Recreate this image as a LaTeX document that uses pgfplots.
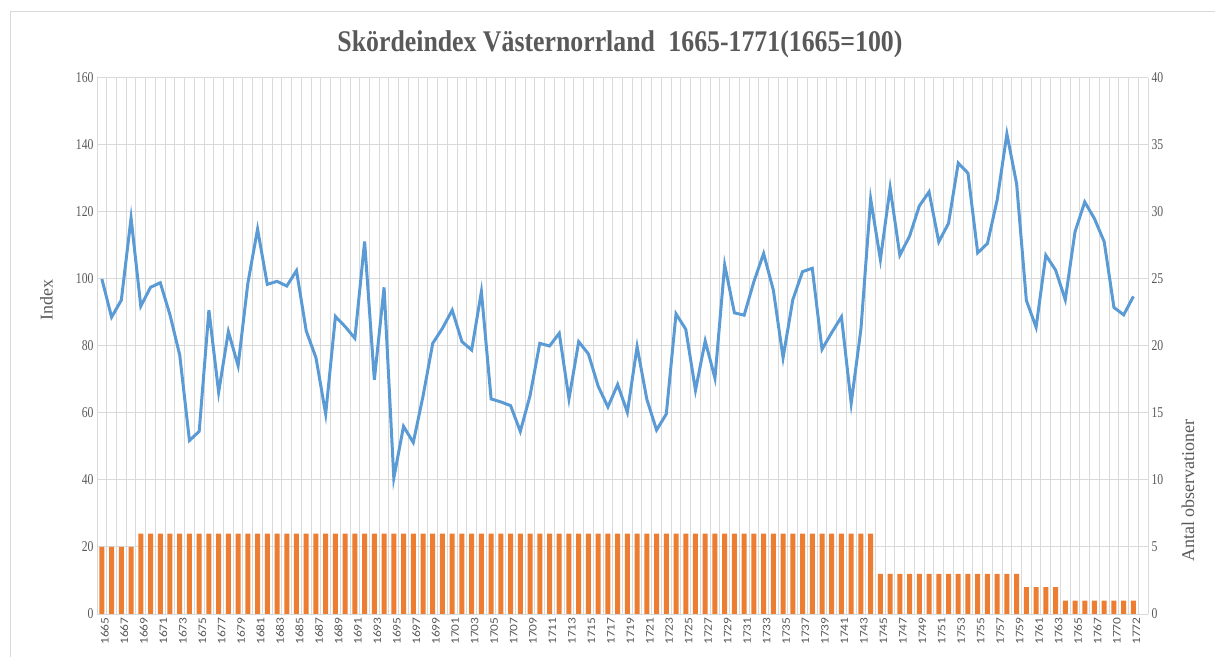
\documentclass[border=0pt]{standalone}
\usepackage{fontspec}
\setmainfont{Liberation Serif}
\newfontfamily\titlefont[FakeStretch=0.86]{Liberation Serif}
\newfontfamily\tickfont[FakeStretch=0.78]{Liberation Serif}
\newfontfamily\xfont[FakeStretch=1.17]{Carlito}
\usepackage{pgfplots}
\pgfplotsset{compat=1.18}
\usepackage{pgfplotstable}

\definecolor{lineblue}{HTML}{5B9BD5}
\definecolor{barorange}{HTML}{ED7D31}
\definecolor{gridgray}{HTML}{D9D9D9}
\definecolor{labelgray}{HTML}{595959}

\pgfplotstableread{
idx val n
0 100 5
1 88.6 5
2 93.7 5
3 118.2 5
4 91.9 6
5 97.5 6
6 98.9 6
7 89.3 6
8 77.3 6
9 51.8 6
10 54.5 6
11 90.7 6
12 66.2 6
13 84.3 6
14 74.1 6
15 98.7 6
16 114.9 6
17 98.4 6
18 99.3 6
19 97.9 6
20 102.5 6
21 84.5 6
22 76.5 6
23 59.7 6
24 88.8 6
25 85.8 6
26 82.3 6
27 111.2 6
28 69.9 6
29 97.5 6
30 40.6 6
31 56.0 6
32 51.2 6
33 65.0 6
34 80.8 6
35 85.3 6
36 90.7 6
37 81.3 6
38 78.8 6
39 96.2 6
40 64.2 6
41 63.3 6
42 62.2 6
43 54.5 6
44 65.2 6
45 80.8 6
46 80.0 6
47 83.8 6
48 64.2 6
49 81.3 6
50 77.6 6
51 68.0 6
52 61.8 6
53 68.5 6
54 60.2 6
55 79.8 6
56 64.1 6
57 54.9 6
58 59.7 6
59 89.6 6
60 85.0 6
61 66.8 6
62 81.5 6
63 70.4 6
64 104.2 6
65 89.9 6
66 89.2 6
67 99.2 6
68 107.6 6
69 96.7 6
70 76.5 6
71 93.8 6
72 102.2 6
73 103.2 6
74 79.0 6
75 84.0 6
76 88.7 6
77 62.9 6
78 85.0 6
79 123.9 6
80 105.8 3
81 127.2 3
82 107.1 3
83 112.8 3
84 121.8 3
85 126.0 3
86 111.1 3
87 116.6 3
88 134.6 3
89 131.6 3
90 107.8 3
91 110.6 3
92 123.6 3
93 143.3 3
94 128.4 3
95 93.6 2
96 85.6 2
97 107.1 2
98 102.7 2
99 93.8 1
100 114.1 1
101 123.0 1
102 118.0 1
103 111.1 1
104 91.5 1
105 89.3 1
106 94.8 1
}\data

\begin{document}
\begin{tikzpicture}
\useasboundingbox (0bp,0bp) rectangle (1215bp,657bp);
\draw[gridgray, line width=1bp] (10bp,0bp) -- (10bp,645bp) -- (1215bp,645bp);
\begin{axis}[
  at={(97bp,43bp)}, anchor=south west, scale only axis,
  width=1051bp, height=536bp,
  xmin=-0.5, xmax=107.5, ymin=0, ymax=40,
  axis x line*=bottom, axis y line*=right,
  x axis line style={draw=gridgray, line width=1bp, -},
  y axis line style={draw=none},
  xtick={0,2,...,106},
  xticklabels={1665,1667,1669,1671,1673,1675,1677,1679,1681,1683,1685,1687,1689,1691,1693,1695,1697,1699,1701,1703,1705,1707,1709,1711,1713,1715,1717,1719,1721,1723,1725,1727,1729,1731,1733,1735,1737,1739,1741,1743,1745,1747,1749,1751,1753,1755,1757,1759,1761,1763,1765,1767,1770,1772},
  minor xtick={-0.5,0.5,...,107.5},
  xminorgrids=true, ymajorgrids=true, xmajorgrids=false,
  ytick={0,5,...,40},
  major tick length=0, minor tick length=0,
  grid style={draw=gridgray, line width=1bp},
  minor grid style={draw=gridgray, line width=1bp},
  major grid style={draw=gridgray, line width=1bp},
  /pgf/number format/assume math mode=true,
  xticklabel style={rotate=90, anchor=east, yshift=-3bp, font=\xfont\fontsize{11.5bp}{13bp}\selectfont, text=labelgray},
  yticklabel style={font=\tickfont\fontsize{15bp}{17bp}\selectfont, text=labelgray},
  ylabel={Antal observationer},
  ylabel style={at={(axis description cs:1.038,0.23)}, anchor=center, font=\fontsize{18bp}{20bp}\selectfont, text=labelgray},
  ybar, bar width=5bp,
]
\addplot[fill=barorange, draw=none] table[x=idx, y=n]{\data};
\end{axis}
\begin{axis}[
  at={(97bp,43bp)}, anchor=south west, scale only axis,
  width=1051bp, height=536bp,
  xmin=-0.5, xmax=107.5, ymin=0, ymax=160,
  axis x line=none, axis y line*=left,
  y axis line style={draw=none},
  ytick={0,20,...,160},
  major tick length=0,
  /pgf/number format/assume math mode=true,
  yticklabel style={font=\tickfont\fontsize{15bp}{17bp}\selectfont, text=labelgray},
  ylabel={Index},
  ylabel style={at={(axis description cs:-0.048,0.586)}, anchor=center, font=\fontsize{18bp}{20bp}\selectfont, text=labelgray},
  title={Skördeindex Västernorrland\hspace{0.45em}1665-1771(1665=100)},
  title style={at={(axis description cs:0.4976,1.052)}, anchor=center, font=\titlefont\bfseries\fontsize{30bp}{34bp}\selectfont, text=labelgray},
]
\addplot[color=lineblue, line width=3bp] table[x=idx, y=val]{\data};
\end{axis}
\end{tikzpicture}
\end{document}
